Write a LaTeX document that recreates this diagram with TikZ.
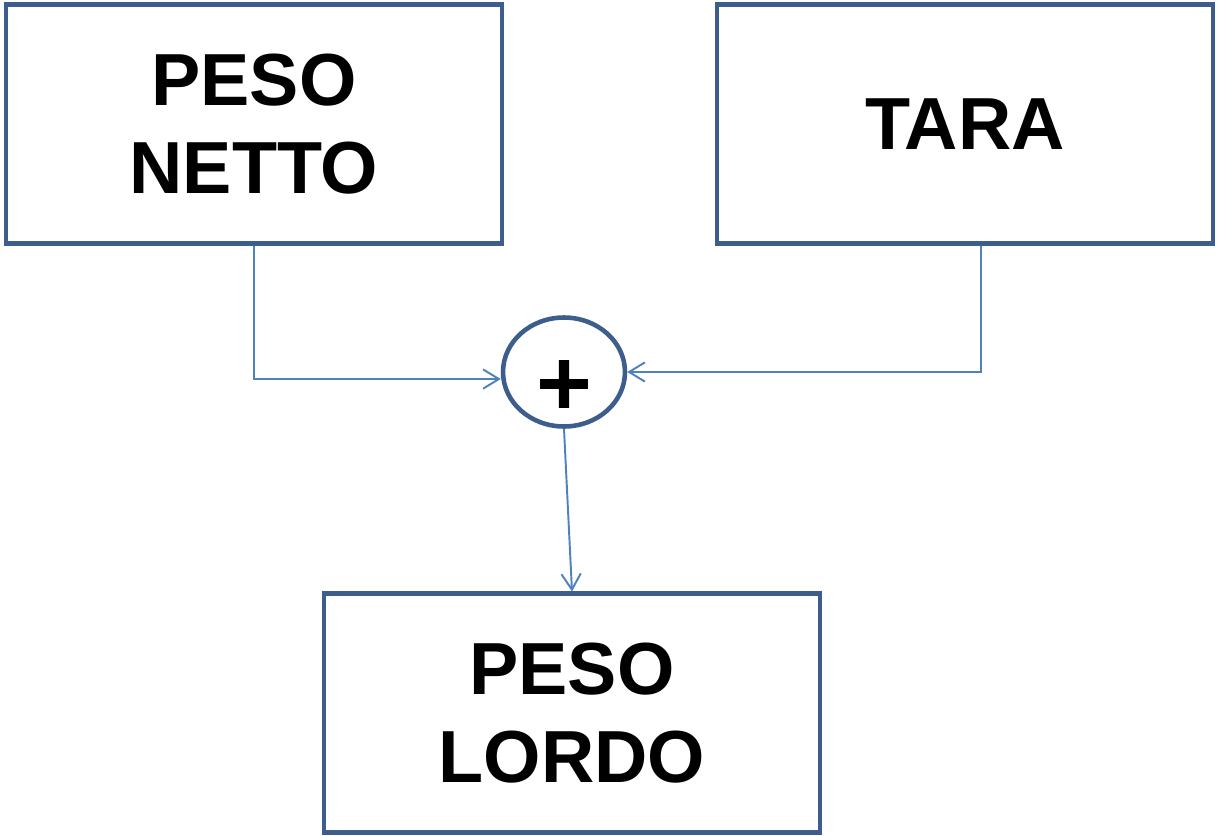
\documentclass[tikz,border=0pt]{standalone}
\usepackage{fontspec}
\setmainfont{Liberation Sans}
\newfontfamily\plusfont[UprightFont={* Bold}, FakeBold=2]{DejaVu Sans}
\usetikzlibrary{arrows.meta,positioning,shapes.geometric}
\definecolor{boxblue}{HTML}{3D5E8C}
\definecolor{lineblue}{HTML}{4F81BD}
\tikzset{
        >={Straight Barb[length=9pt,width=11pt]},
        block/.style = {draw=boxblue, line width=2.6pt, minimum width=9.93cm, minimum height=4.77cm,
                align=center, font=\fontsize{42}{50}\selectfont\bfseries},
        sumnode/.style = {draw=boxblue, line width=2.6pt, ellipse, minimum width=2.44cm, minimum height=2.18cm,
                inner sep=0pt, font=\fontsize{42}{42}\selectfont\plusfont},
        link/.style = {draw=lineblue, line width=1.1pt}
}

\begin{document}
\begin{tikzpicture}[x=0.02cm, y=-0.02cm]

        \useasboundingbox (0,0) rectangle (1217,835);

        % Boxes
        \node[block] (netto) at (254,124) {PESO\\NETTO};
        \node[block] (tara) at (965,124) {TARA};
        \node[sumnode] (plus) at (564,372) {\raisebox{-20pt}[0pt][0pt]{+}};
        \node[block] (lordo) at (572,713) {PESO\\LORDO};

        % Connectors
        \draw [link,->] (netto.south) |- ([yshift=-4pt]plus.west);
        \draw [link,->] ([xshift=9pt]tara.south) |- (plus.east);
        \draw [link,->] (plus.south) -- (lordo.north);

\end{tikzpicture}
\end{document}
